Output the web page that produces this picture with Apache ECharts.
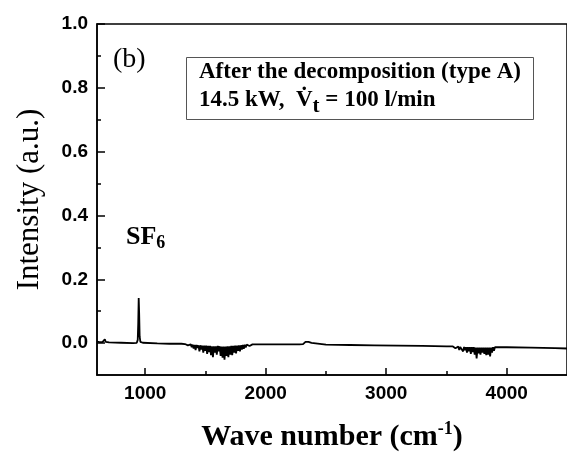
<!DOCTYPE html>
<html><head><meta charset="utf-8">
<script src="https://cdn.jsdelivr.net/npm/echarts@6/dist/echarts.min.js"></script>
<style>html,body{margin:0;padding:0;background:#fff}#c{width:567px;height:457px}</style>
</head><body><div id="c"></div>
<script>
const xLabels = [1000, 2000, 3000, 4000];
const xMinor = [1500, 2500, 3500];
const yLabels = [0, 0.2, 0.4, 0.6, 0.8, 1.0];
const yMinor = [0.1, 0.3, 0.5, 0.7, 0.9];

// wavenumber (cm-1) and intensity (a.u.)
const wavenumber = [
 600,610,620,630,645,655,665,672,685,700,800,900,930,938,942,946,950,954,960,980,1100,1200,1300,
 1330,1338,1346,1354,1362,1370,1378,1386,1394,1402,1410,1418,1426,1434,1442,1450,1458,1466,1474,1482,1490,1498,1506,1514,1522,1530,1538,1546,1554,1562,1570,1578,1586,1594,1602,1610,1618,1626,1634,1642,1650,1658,1666,1674,1682,1690,1698,1706,1714,1722,1730,1738,1746,1754,1762,1770,1778,1786,1794,1802,1810,1818,1826,1834,1842,1850,1858,1866,1874,1882,1890,1900,1920,
 2000,2100,2200,2280,2310,2330,2345,2355,2365,2380,2395,2500,2700,2900,3100,3300,3500,
 3550,3558,3566,3574,3582,3590,3598,3606,3614,3622,3630,3638,3646,3654,3662,3670,3678,3686,3694,3702,3710,3718,3726,3734,3742,3750,3758,3766,3774,3782,3790,3798,3806,3814,3822,3830,3838,3846,3854,3862,3870,3878,3886,3894,3902,3910,3918,3930,
 4000,4200,4400,4500
];
const intensity = [
 0.005,0.004,0.003,0.004,0.003,0.006,0.012,0.004,0.002,0.002,0.001,0.000,0.001,0.010,0.060,0.141,0.090,0.020,0.004,0.001,-0.001,-0.002,-0.002,
 -0.003,-0.005,-0.003,-0.007,-0.004,-0.010,-0.004,-0.013,-0.005,-0.017,-0.006,-0.022,-0.006,-0.015,-0.007,-0.026,-0.007,-0.020,-0.008,-0.030,-0.008,-0.024,-0.008,-0.034,-0.009,-0.028,-0.009,-0.038,-0.010,-0.044,-0.010,-0.030,-0.010,-0.036,-0.009,-0.026,-0.010,-0.040,-0.011,-0.046,-0.011,-0.052,-0.011,-0.040,-0.010,-0.044,-0.010,-0.036,-0.009,-0.038,-0.009,-0.030,-0.008,-0.032,-0.008,-0.024,-0.007,-0.026,-0.007,-0.020,-0.006,-0.018,-0.005,-0.014,-0.005,-0.011,-0.004,-0.009,-0.004,-0.007,-0.004,-0.005,-0.004,
 -0.004,-0.004,-0.004,-0.004,-0.003,0.004,0.009,0.004,0.009,0.001,-0.004,-0.005,-0.006,-0.007,-0.008,-0.009,-0.010,
 -0.010,-0.013,-0.010,-0.016,-0.011,-0.019,-0.011,-0.022,-0.012,-0.018,-0.012,-0.026,-0.012,-0.022,-0.013,-0.030,-0.013,-0.026,-0.013,-0.034,-0.013,-0.028,-0.013,-0.036,-0.014,-0.048,-0.014,-0.032,-0.014,-0.036,-0.014,-0.030,-0.014,-0.034,-0.014,-0.038,-0.014,-0.036,-0.014,-0.042,-0.014,-0.030,-0.013,-0.024,-0.013,-0.018,-0.013,-0.013,
 -0.013,-0.014,-0.016,-0.017
];

const serif = '"Liberation Serif","Times New Roman",serif';
const sans = '"Liberation Sans",Arial,sans-serif';
const chart = echarts.init(document.getElementById('c'), null, {renderer: 'canvas'});
chart.setOption({
  animation: false,
  backgroundColor: '#fff',
  grid: {left: 97, top: 24, right: -11, bottom: 79, show: true, borderColor: '#000', borderWidth: 1.5, backgroundColor: 'transparent'},
  xAxis: [{
    type: 'value', min: 600, max: 4500,
    axisLine: {show: true, onZero: false, lineStyle: {color: '#000', width: 1.5}},
    axisTick: {show: true, inside: true, length: 7, lineStyle: {color: '#000', width: 1.5}, customValues: xLabels},
    axisLabel: {customValues: xLabels, margin: 9, fontFamily: sans, fontWeight: 'bold', fontSize: 19, color: '#000',
      formatter: v => String(v)},
    splitLine: {show: false},
    name: '{a|Wave number (cm}{s|-1}{a|)}', nameLocation: 'middle', nameGap: 45,
    nameTextStyle: {rich: {
      a: {fontFamily: serif, fontWeight: 'bold', fontSize: 30, color: '#000'},
      s: {fontFamily: serif, fontWeight: 'bold', fontSize: 18, color: '#000', verticalAlign: 'top', padding: [0, 0, 16, 0]}
    }}
  }, {
    type: 'value', min: 600, max: 4500, gridIndex: 0, position: 'bottom',
    axisLine: {show: false, onZero: false},
    axisTick: {show: true, inside: true, length: 4, lineStyle: {color: '#000', width: 1.5}, customValues: xMinor},
    axisLabel: {show: false}, splitLine: {show: false}
  }],
  yAxis: [{
    type: 'value', min: -0.1, max: 1.0,
    axisLine: {show: true, onZero: false, lineStyle: {color: '#000', width: 1.5}},
    axisTick: {show: true, inside: true, length: 8, lineStyle: {color: '#000', width: 1.5}, customValues: yLabels},
    axisLabel: {customValues: yLabels, margin: 9, fontFamily: sans, fontWeight: 'bold', fontSize: 19, color: '#000',
      formatter: v => v.toFixed(1)},
    splitLine: {show: false},
    name: 'Intensity (a.u.)', nameLocation: 'middle', nameGap: 52,
    nameTextStyle: {fontFamily: serif, fontSize: 31, color: '#000'}
  }, {
    type: 'value', min: -0.1, max: 1.0, position: 'left',
    axisLine: {show: false, onZero: false},
    axisTick: {show: true, inside: true, length: 4, lineStyle: {color: '#000', width: 1.5}, customValues: yMinor},
    axisLabel: {show: false}, splitLine: {show: false}
  }],
  series: [{
    type: 'line', xAxisIndex: 0, yAxisIndex: 0,
    data: wavenumber.map((w, i) => [w, intensity[i]]),
    showSymbol: false, symbol: 'none',
    lineStyle: {color: '#000', width: 1.8}
  }],
  graphic: [
    {type: 'text', left: 113, top: 46, style: {text: '(b)', font: '28px ' + serif, fill: '#000'}},
    {type: 'rect', shape: {x: 186.5, y: 57.5, width: 347, height: 62}, style: {fill: '#fff', stroke: '#555', lineWidth: 1}},
    {type: 'text', left: 199, top: 61, style: {text: 'After the decomposition (type A)', font: 'bold 23px ' + serif, fill: '#000'}},
    {type: 'text', left: 199, top: 89, style: {
      text: '{b|14.5 kW,  }{b|V\u0307}{t|t}{b| = 100 l/min}',
      rich: {
        b: {fontFamily: serif, fontWeight: 'bold', fontSize: 23, fill: '#000'},
        t: {fontFamily: serif, fontWeight: 'bold', fontSize: 21, fill: '#000', padding: [12, 0, 0, 0]}
      }}},
    {type: 'text', left: 126, top: 224, style: {
      text: '{a|SF}{s|6}',
      rich: {
        a: {fontFamily: serif, fontWeight: 'bold', fontSize: 26, fill: '#000'},
        s: {fontFamily: serif, fontWeight: 'bold', fontSize: 18, fill: '#000', padding: [12, 0, 0, 0]}
      }}}
  ]
});
</script></body></html>
